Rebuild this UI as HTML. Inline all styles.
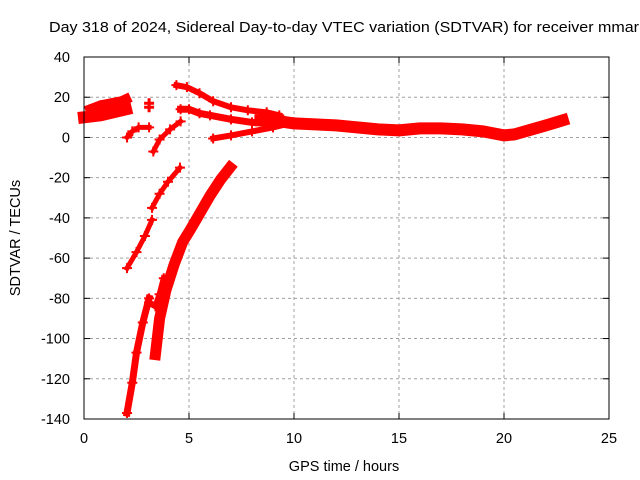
<!DOCTYPE html>
<html><head><meta charset="utf-8"><style>
body{margin:0;background:#fff;overflow:hidden}
svg{display:block;font-family:"Liberation Sans",sans-serif}
</style></head><body>
<svg id="chart" width="640" height="480" viewBox="0 0 640 480">
<text x="49" y="32" font-size="14.5" textLength="590" lengthAdjust="spacingAndGlyphs">Day 318 of 2024, Sidereal Day-to-day VTEC variation (SDTVAR) for receiver mmar</text>
<g id="grid"></g>
<g id="series"></g>
<rect x="84" y="57" width="525" height="362" fill="none" stroke="#000" stroke-width="1"/>
<g id="ticks"></g>
<text x="344" y="471" font-size="14.5" text-anchor="middle">GPS time / hours</text>
<text transform="translate(20,238) rotate(-90)" font-size="14.5" text-anchor="middle">SDTVAR / TECUs</text>
</svg>
<script>
const xTicks=[0,5,10,15,20,25];
const yTicks=[40,20,0,-20,-40,-60,-80,-100,-120,-140];
const segHours=[
 [0,0.4,0.8,1.2,1.6,2.0],
 [0.3,0.8,1.3,1.8,2.0],
 [2.05,2.3,2.6,3.1],
 [3.3,3.6,4.1,4.6],
 [2.05,2.5,2.9,3.24],
 [3.24,3.6,4.0,4.57],
 [2.05,2.3,2.5,2.8,3.1],
 [3.4,3.6,3.9,4.3,4.7,5.05,5.5,6.0,6.5,6.95],
 [4.4,4.9,5.5,6.15,7.0,7.8,8.7,9.3],
 [4.6,5.0,5.5,6.0,7.0,8.0,9.0],
 [6.15,7.0,8.0,9.0,10.0],
 [8.4,9,10,11,12,13,14,15,16,17,18,19,19.5,20,20.5,21,22,22.8],
 [3.1,3.4,3.6,3.8]
];
const segValues=[
 [10,10.5,11,12,13,14],
 [14,16,17,18,19],
 [0,3,5,5],
 [-7,-1,4,8],
 [-65,-57,-49,-41],
 [-35,-28,-22,-15],
 [-137,-122,-107,-92,-80],
 [-108,-90,-76,-63,-52,-46,-38,-29,-21,-15],
 [26,25,22,18,15,13.5,12.5,11],
 [14,14,12,11,9,7.5,7],
 [-0.5,1,3,5,7.5],
 [8.5,8.5,7,6.5,6,5,4,3.5,4.5,4.5,4,3,2,1,1.5,3,6,8.5],
 [-82,-84,-78,-70]
];
const segWidth=[12,10,5,5,5,5,7,11,6,7,6,12,6];
const X0=84,X1=609,Y0=57,Y1=419;
const xs=h=>X0+(h-0)/(25-0)*(X1-X0);
const ys=v=>Y0+(40-v)/(40-(-140))*(Y1-Y0);
const NS='http://www.w3.org/2000/svg';
const grid=document.getElementById('grid'),ticks=document.getElementById('ticks'),ser=document.getElementById('series');
function mk(tag,attrs,parent){const e=document.createElementNS(NS,tag);for(const k in attrs)e.setAttribute(k,attrs[k]);parent.appendChild(e);return e;}
xTicks.forEach(t=>{const x=xs(t);
 if(t>0&&t<25){const g=mk('line',{x1:x,y1:Y0,x2:x,y2:Y1,stroke:'#a0a0a0','stroke-dasharray':'3,3'},grid);
 
 }
 mk('line',{x1:x,y1:Y1,x2:x,y2:Y1-6,stroke:'#000'},ticks);mk('line',{x1:x,y1:Y0,x2:x,y2:Y0+6,stroke:'#000'},ticks);
 const tx=mk('text',{x:x,y:Y1+24,'font-size':14.5,'text-anchor':'middle'},ticks);tx.textContent=t;
 
 
});
yTicks.forEach(t=>{const y=ys(t);
 if(t<40&&t>-140){const g=mk('line',{x1:X0,y1:y,x2:X1,y2:y,stroke:'#a0a0a0','stroke-dasharray':'3,3'},grid);
 
 }
 mk('line',{x1:X0,y1:y,x2:X0+6,y2:y,stroke:'#000'},ticks);mk('line',{x1:X1,y1:y,x2:X1-6,y2:y,stroke:'#000'},ticks);
 const tx=mk('text',{x:X0-14,y:y+5,'font-size':14.5,'text-anchor':'end'},ticks);tx.textContent=t;
 
 
});
segHours.forEach((hs,i)=>{
 const pts=hs.map((h,j)=>xs(h).toFixed(1)+','+ys(segValues[i][j]).toFixed(1)).join(' ');
 const p=mk('polyline',{points:pts,fill:'none',stroke:'#f00','stroke-width':segWidth[i],'stroke-linejoin':'round','stroke-linecap':'square'},ser);
 
 
 hs.forEach((h,j)=>{const x=xs(h),y=ys(segValues[i][j]);
  const m=mk('path',{d:`M${x-5},${y}h10M${x},${y-5}v10`,stroke:'#f00','stroke-width':2},ser);
  
  });
});
const isoHours=[3.1,3.1];const isoValues=[17,15];
isoHours.forEach((h,j)=>{const x=xs(h),y=ys(isoValues[j]);
 const m=mk('path',{d:`M${x-5},${y}h10M${x},${y-5}v10`,stroke:'#f00','stroke-width':3},ser);
 
 });
</script>
</body></html>
